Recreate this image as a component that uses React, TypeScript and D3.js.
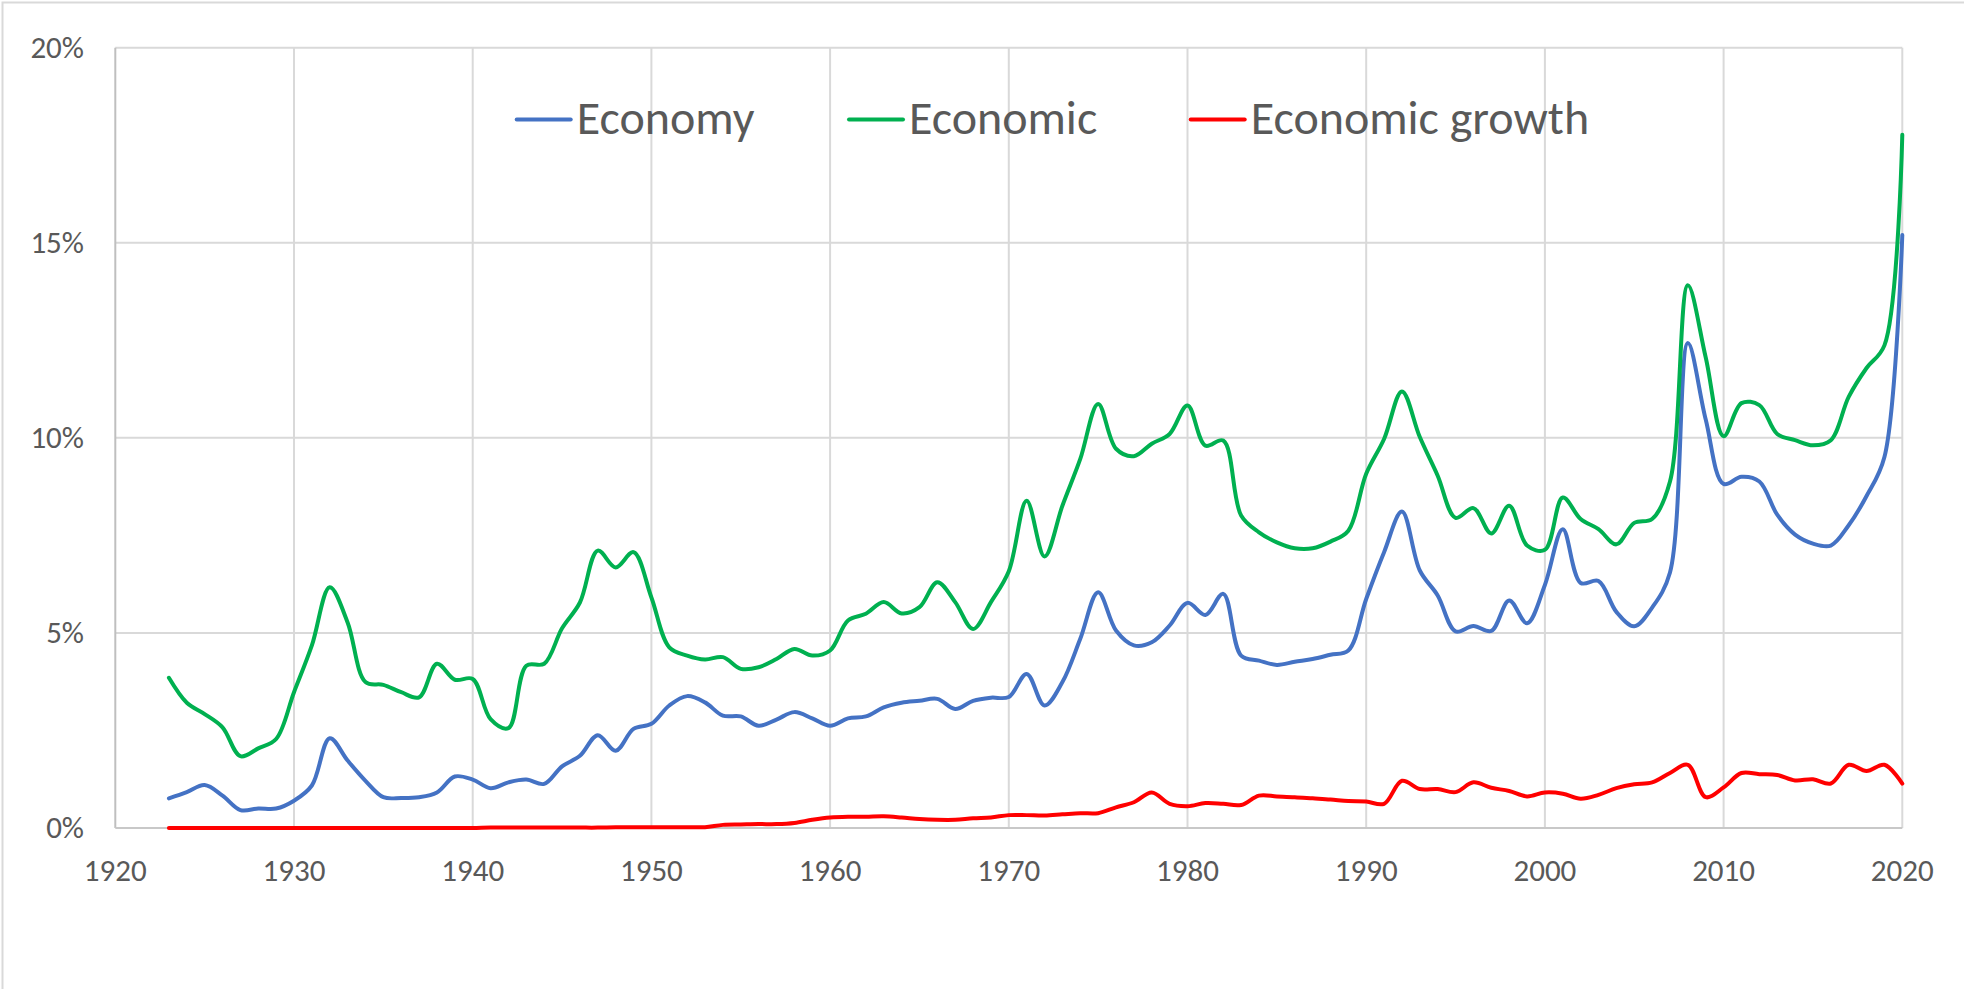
import React, { useEffect, useRef } from 'react'
import * as d3 from 'd3'

const startYear = 1923
const endYear = 2020

// share of texts, in %
const economy = [
  0.76, 0.92, 1.10, 0.83, 0.46, 0.50, 0.50, // 1923-1929
  0.70, 1.09, 2.30, 1.73, 1.21, 0.79, 0.77, 0.79, 0.91, 1.32, // 1930s
  1.24, 1.02, 1.17, 1.24, 1.13, 1.58, 1.85, 2.38, 1.98, 2.54, // 1940s
  2.67, 3.14, 3.38, 3.22, 2.88, 2.86, 2.62, 2.78, 2.97, 2.81, // 1950s
  2.62, 2.81, 2.86, 3.09, 3.21, 3.26, 3.31, 3.05, 3.26, 3.34, // 1960s
  3.36, 3.95, 3.14, 3.74, 4.85, 6.04, 5.06, 4.68, 4.76, 5.19, // 1970s
  5.77, 5.46, 6.00, 4.42, 4.29, 4.18, 4.26, 4.33, 4.44, 4.55, // 1980s
  5.87, 7.07, 8.11, 6.60, 5.96, 5.04, 5.18, 5.05, 5.83, 5.25, // 1990s
  6.23, 7.66, 6.28, 6.33, 5.54, 5.17, 5.65, 6.55, 12.43, 10.47, // 2000s
  8.82, 9.00, 8.88, 8.03, 7.52, 7.29, 7.24, 7.76, 8.51, 9.51, // 2010s
  15.2 // 2020
]

const economic = [
  3.85, 3.21, 2.92, 2.58, 1.84, 2.04, 2.28,
  3.48, 4.68, 6.17, 5.27, 3.74, 3.67, 3.48, 3.35, 4.21, 3.80,
  3.82, 2.79, 2.56, 4.16, 4.21, 5.12, 5.78, 7.11, 6.68, 7.07,
  5.91, 4.63, 4.42, 4.32, 4.38, 4.08, 4.12, 4.33, 4.59, 4.42,
  4.55, 5.32, 5.49, 5.79, 5.50, 5.66, 6.30, 5.79, 5.10, 5.79,
  6.58, 8.39, 6.96, 8.26, 9.46, 10.87, 9.72, 9.53, 9.85, 10.10,
  10.83, 9.80, 9.93, 8.01, 7.58, 7.32, 7.17, 7.17, 7.34, 7.62,
  9.08, 9.97, 11.19, 10.02, 9.03, 7.95, 8.20, 7.55, 8.26, 7.24,
  7.13, 8.47, 7.92, 7.66, 7.27, 7.82, 7.92, 8.88, 13.91, 12.06,
  10.04, 10.89, 10.84, 10.10, 9.94, 9.81, 9.94, 11.05, 11.79, 12.37,
  17.77
]

const economicGrowth = [
  0.00, 0.00, 0.00, 0.00, 0.00, 0.00, 0.00,
  0.00, 0.00, 0.00, 0.00, 0.00, 0.00, 0.00, 0.00, 0.00, 0.00,
  0.00, 0.01, 0.01, 0.01, 0.01, 0.01, 0.01, 0.01, 0.02, 0.02,
  0.02, 0.02, 0.02, 0.02, 0.08, 0.09, 0.10, 0.10, 0.13, 0.21,
  0.27, 0.29, 0.29, 0.30, 0.27, 0.23, 0.21, 0.21, 0.25, 0.27,
  0.33, 0.33, 0.32, 0.35, 0.38, 0.38, 0.53, 0.66, 0.91, 0.62,
  0.56, 0.64, 0.62, 0.59, 0.83, 0.81, 0.79, 0.76, 0.73, 0.69,
  0.68, 0.62, 1.21, 1.00, 1.00, 0.92, 1.17, 1.03, 0.95, 0.81,
  0.91, 0.88, 0.75, 0.85, 1.02, 1.12, 1.17, 1.41, 1.62, 0.79,
  1.04, 1.41, 1.38, 1.36, 1.22, 1.25, 1.14, 1.62, 1.46, 1.62,
  1.14
]

const seriesNames = ['Economy', 'Economic', 'Economic growth']
const seriesColors = ['#4472C4', '#00B050', '#FF0000']
const xTicks = [1920, 1930, 1940, 1950, 1960, 1970, 1980, 1990, 2000, 2010, 2020]
const yTicks = [0, 5, 10, 15, 20]

const App = () => {
  const chartRef = useRef<HTMLDivElement>(null)

  useEffect(() => {
    const width = 1964
    const height = 989
    const years = d3.range(startYear, endYear + 1)
    const allSeries = [economy, economic, economicGrowth]

    const root = d3.select(chartRef.current)
    root.selectAll('*').remove()

    const svg = root.append('svg')
      .attr('width', width)
      .attr('height', height)
      .style('position', 'absolute')
      .style('left', 0)
      .style('top', 0)
      .style('background', '#fff')

    const x = d3.scaleLinear().domain([1920, 2020]).range([115.3, 1902.3])
    const y = d3.scaleLinear().domain([0, 20]).range([828, 47.7])

    // outer chart border (only top and left are inside the picture)
    svg.append('path')
      .attr('d', `M2.5,${height} V2.5 H${width}`)
      .attr('fill', 'none')
      .attr('stroke', '#D9D9D9')
      .attr('stroke-width', 2)

    const grid = svg.append('g')
    grid.selectAll('.hgrid')
      .data(yTicks.filter(d => d > 0))
      .enter()
      .append('line')
      .attr('x1', x(1920))
      .attr('x2', x(2020))
      .attr('y1', d => y(d))
      .attr('y2', d => y(d))
      .attr('stroke', '#D9D9D9')
      .attr('stroke-width', 2)

    grid.selectAll('.vgrid')
      .data(xTicks.filter(d => d > 1920))
      .enter()
      .append('line')
      .attr('x1', d => x(d))
      .attr('x2', d => x(d))
      .attr('y1', y(20))
      .attr('y2', y(0))
      .attr('stroke', '#D9D9D9')
      .attr('stroke-width', 2)

    // axis lines
    svg.append('line')
      .attr('x1', x(1920)).attr('x2', x(1920))
      .attr('y1', y(20)).attr('y2', y(0))
      .attr('stroke', '#BFBFBF')
      .attr('stroke-width', 2)
    svg.append('line')
      .attr('x1', x(1920)).attr('x2', x(2020))
      .attr('y1', y(0)).attr('y2', y(0))
      .attr('stroke', '#C8C8C8')
      .attr('stroke-width', 2)

    const font = "Calibri, Carlito, 'Liberation Sans', Arial, sans-serif"

    svg.selectAll('.ylabel')
      .data(yTicks)
      .enter()
      .append('text')
      .attr('x', 84)
      .attr('y', d => y(d) + 10)
      .attr('text-anchor', 'end')
      .attr('font-family', font)
      .attr('font-size', 31)
      .attr('fill', '#595959')
      .text(d => `${d}%`)

    svg.selectAll('.xlabel')
      .data(xTicks)
      .enter()
      .append('text')
      .attr('x', d => x(d))
      .attr('y', 881)
      .attr('text-anchor', 'middle')
      .attr('font-family', font)
      .attr('font-size', 31)
      .attr('fill', '#595959')
      .text(d => d)

    const line = d3.line<number>()
      .x((_, i) => x(years[i]))
      .y(d => y(d))
      .curve(d3.curveCatmullRom.alpha(0.5))

    allSeries.forEach((s, i) => {
      svg.append('path')
        .datum(s)
        .attr('fill', 'none')
        .attr('stroke', seriesColors[i])
        .attr('stroke-width', 4)
        .attr('stroke-linejoin', 'round')
        .attr('stroke-linecap', 'round')
        .attr('d', line)
    })

    // legend
    const legendX = [516.7, 849, 1190.7]
    const legend = svg.selectAll('.legend')
      .data(seriesNames)
      .enter()
      .append('g')
      .attr('transform', (_, i) => `translate(${legendX[i]}, 0)`)

    legend.append('line')
      .attr('x1', 0)
      .attr('x2', 54)
      .attr('y1', 119.5)
      .attr('y2', 119.5)
      .attr('stroke', (_, i) => seriesColors[i])
      .attr('stroke-width', 4)
      .attr('stroke-linecap', 'round')

    legend.append('text')
      .attr('x', 60)
      .attr('y', 134)
      .attr('font-family', font)
      .attr('font-size', 48)
      .attr('fill', '#595959')
      .text(d => d)
  }, [])

  return (
    <div ref={chartRef} />
  )
}

export default App
